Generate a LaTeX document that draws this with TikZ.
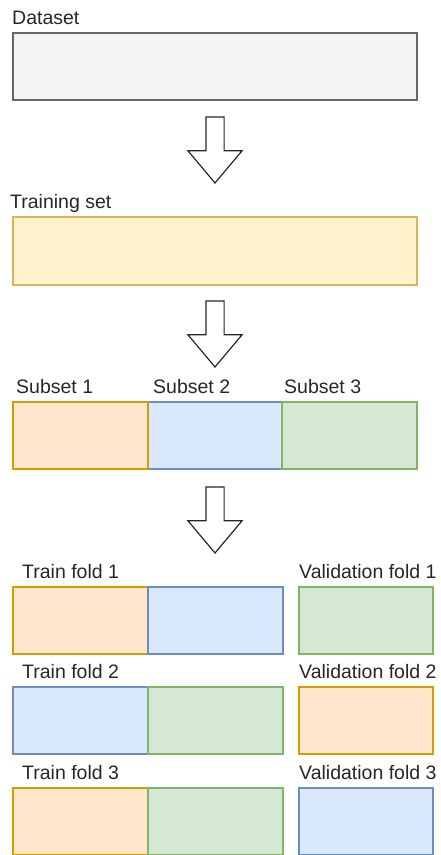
\documentclass[tikz,border=0pt]{standalone}
\usepackage{fontspec}
\setmainfont{Liberation Sans}
\usetikzlibrary{positioning,shapes.arrows}

\definecolor{greyfill}{HTML}{F5F5F5}
\definecolor{greyline}{HTML}{666666}
\definecolor{yellowfill}{HTML}{FFF2CC}
\definecolor{yellowline}{HTML}{D6B656}
\definecolor{orangefill}{HTML}{FFE6CC}
\definecolor{orangeline}{HTML}{D79B00}
\definecolor{bluefill}{HTML}{DAE8FC}
\definecolor{blueline}{HTML}{6C8EBF}
\definecolor{greenfill}{HTML}{D5E8D4}
\definecolor{greenline}{HTML}{82B366}

\begin{document}
\begin{tikzpicture}[
    x=1pt, y=-1pt,
    node distance=0pt,
    part/.style={rectangle, draw, line width=1.2pt, inner sep=0pt, outer sep=0pt, minimum height=67pt},
    setbox/.style={part, minimum width=404pt},
    foldbox/.style={part, minimum width=135pt},
    orangepart/.style={foldbox, fill=orangefill, draw=orangeline},
    bluepart/.style={foldbox, fill=bluefill, draw=blueline},
    greenpart/.style={foldbox, fill=greenfill, draw=greenline},
    lbl/.style={anchor=base west, inner sep=0pt, text=black!85, font=\fontsize{19.5}{22}\selectfont},
    downarrow/.style={single arrow, draw=black!85, fill=white, line width=1.2pt, outer sep=0pt,
        inner xsep=0pt, inner ysep=8.5pt, single arrow head extend=18pt,
        single arrow tip angle=80, minimum height=66pt, rotate=-90}
]
\useasboundingbox (0,0) rectangle (440,855);

% whole data and the training part
\node[setbox, fill=greyfill, draw=greyline] (dataset) at (215,66.5) {};
\node[lbl] (datasetlbl) at (12,24) {Dataset};
\node[downarrow, below=17pt of dataset, anchor=tail] (arrowA) {};
\node[setbox, fill=yellowfill, draw=yellowline, minimum height=68pt, below=117pt of dataset] (trainset) {};
\node[lbl] (trainsetlbl) at (10,208) {Training set};
\node[downarrow, below=16pt of trainset, anchor=tail] (arrowB) {};

% three subsets
\node[bluepart, minimum width=134pt, below=117pt of trainset] (sub2) {};
\node[orangepart, left=of sub2] (sub1) {};
\node[greenpart, right=of sub2] (sub3) {};
\node[lbl] (sub1lbl) at (16,393) {Subset 1};
\node[lbl] (sub2lbl) at (153,393) {Subset 2};
\node[lbl] (sub3lbl) at (284,393) {Subset 3};
\node[downarrow, below=18pt of sub2, anchor=tail] (arrowC) {};

% folds: two subsets for training, one for validation
\node[orangepart, anchor=north west] (tf1a) at (13,587) {};
\node[bluepart, right=of tf1a] (tf1b) {};
\node[greenpart, minimum width=134pt, anchor=north west] (vf1) at (299,587) {};
\node[lbl] (tf1lbl) at (22,578) {Train fold 1};
\node[lbl] (vf1lbl) at (299,578) {Validation fold 1};

\node[bluepart, below=33pt of tf1a] (tf2a) {};
\node[greenpart, right=of tf2a] (tf2b) {};
\node[orangepart, minimum width=134pt, below=33pt of vf1] (vf2) {};
\node[lbl] (tf2lbl) at (22,678) {Train fold 2};
\node[lbl] (vf2lbl) at (299,678) {Validation fold 2};

\node[orangepart, below=34pt of tf2a] (tf3a) {};
\node[greenpart, right=of tf3a] (tf3b) {};
\node[bluepart, minimum width=134pt, below=34pt of vf2] (vf3) {};
\node[lbl] (tf3lbl) at (22,779) {Train fold 3};
\node[lbl] (vf3lbl) at (299,779) {Validation fold 3};
\end{tikzpicture}
\end{document}
